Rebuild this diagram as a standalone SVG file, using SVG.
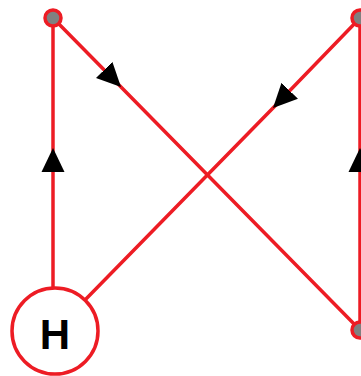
<svg xmlns="http://www.w3.org/2000/svg" width="361" height="376" viewBox="0 0 361 376">
<defs>
<style>
.edge{fill:none;stroke:#ed1c24;stroke-width:3.5;marker-mid:url(#arr)}
.pt{fill:#808080;stroke:#ed1c24;stroke-width:3.5}
.big{fill:#fff;stroke:#ed1c24;stroke-width:3.5}
.lbl{font-family:"Liberation Sans",Arial,sans-serif;font-weight:bold;font-size:42px;fill:#000}
</style>
<marker id="arr" markerUnits="userSpaceOnUse" markerWidth="25" markerHeight="24" viewBox="0 0 25 24" refX="24" refY="12" orient="auto">
<path d="M0,0.5 L24,12 L0,23.5 z" fill="#000"/>
</marker>
</defs>
<rect width="361" height="376" fill="#fff"/>
<g id="connectors">
<path class="edge" d="M53,288 L53,148 L53,18"/>
<path class="edge" d="M53,18 L121,87 L360,330"/>
<path class="edge" d="M360,18 L273,108 L85,300"/>
<path class="edge" d="M360,330 L360,148 L360,18"/>
</g>
<g id="node-tl"><circle class="pt" cx="53" cy="18" r="8"/></g>
<g id="node-tr"><circle class="pt" cx="360" cy="18" r="8"/></g>
<g id="node-br"><circle class="pt" cx="360" cy="330" r="8"/></g>
<g id="node-h"><circle class="big" cx="55" cy="331" r="43"/><text class="lbl" x="55" y="349" text-anchor="middle">H</text></g>
</svg>
